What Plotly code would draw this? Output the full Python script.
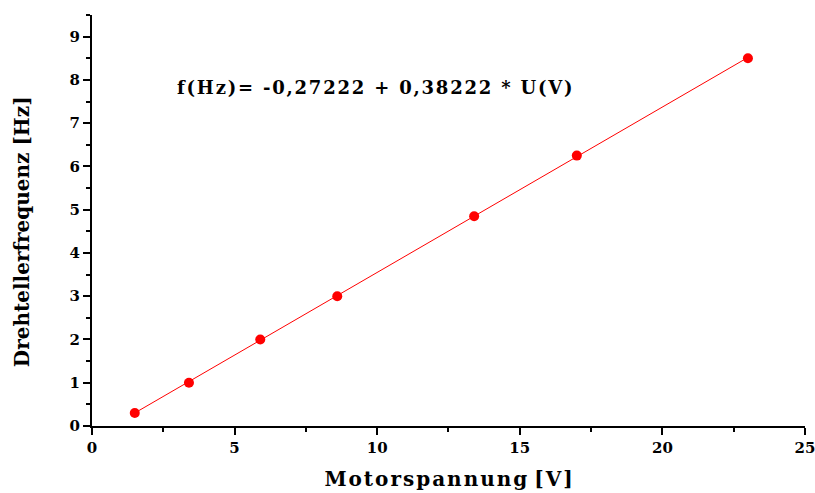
import plotly.graph_objects as go

voltage = [1.5, 3.4, 5.9, 8.6, 13.4, 17.0, 23.0]
frequency = [0.3, 1.0, 2.0, 3.0, 4.85, 6.25, 8.5]
intercept = -0.27222
slope = 0.38222
fit_x = [min(voltage), max(voltage)]
fit_y = [intercept + slope * v for v in fit_x]
x_ticks = [0, 5, 10, 15, 20, 25]
y_ticks = [0, 1, 2, 3, 4, 5, 6, 7, 8, 9]

FONT = "DejaVu Serif"
HS = "\u200a"

fig = go.Figure()
fig.add_trace(go.Scatter(x=fit_x, y=fit_y, mode="lines",
                         line=dict(color="#ff0000", width=1), showlegend=False))
fig.add_trace(go.Scatter(x=voltage, y=frequency, mode="markers",
                         marker=dict(color="#ff0000", size=10), showlegend=False))

eq_text = HS.join("f(Hz)= -0,27222 + 0,38222 * U(V)")
fig.add_annotation(x=2.9, y=7.82, xref="x", yref="y", xanchor="left", yanchor="middle",
                   text=eq_text, showarrow=False,
                   font=dict(family=FONT, size=18, color="black", weight="bold"))

# y-axis title (placed slightly below the plot centre, as in the reference)
fig.add_annotation(x=-0.098, y=0.472, xref="paper", yref="paper", xanchor="center", yanchor="middle",
                   text="Drehtellerfrequenz [Hz]", textangle=-90, showarrow=False,
                   font=dict(family=FONT, size=20, color="black", weight="bold"))

x_title = HS.join("Motorspannung") + " " + HS.join("[V]")

axis_common = dict(showline=True, linecolor="black", linewidth=2, ticks="outside",
                   ticklen=7, tickwidth=2, tickcolor="black", showgrid=False, zeroline=False,
                   automargin=False, ticklabeloverflow="allow",
                   tickfont=dict(family=FONT, size=15, color="black", weight="bold"))

fig.update_xaxes(range=[0, 25.001], tickvals=x_ticks,
                 minor=dict(ticks="outside", dtick=2.5, tick0=0, ticklen=4, tickwidth=2, tickcolor="black"),
                 title=dict(text=x_title, standoff=16,
                            font=dict(family=FONT, size=20, color="black", weight="bold")),
                 **axis_common)
fig.update_yaxes(range=[0, 9.5], tickvals=y_ticks,
                 minor=dict(ticks="outside", dtick=0.5, tick0=0, ticklen=4, tickwidth=2, tickcolor="black"),
                 **axis_common)

fig.update_layout(width=815, height=493, margin=dict(l=92, r=10, t=15, b=67),
                  plot_bgcolor="white", paper_bgcolor="white")

fig.write_html("out.html")
